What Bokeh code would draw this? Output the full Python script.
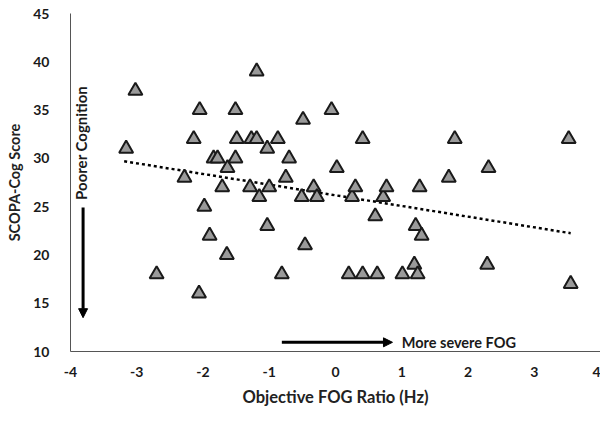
import math
from bokeh.plotting import figure
from bokeh.models import Arrow, NormalHead, Label, ColumnDataSource
from bokeh.embed import file_html
from bokeh.resources import INLINE

# Data
fog_ratio = [-3.16, -3.02, -2.70, -2.28, -2.14, -2.05, -2.06, -1.98, -1.90, -1.84,
             -1.78, -1.71, -1.63, -1.64, -1.51, -1.51, -1.49, -1.29, -1.27, -1.19,
             -1.19, -1.15, -1.03, -1.03, -1.00, -0.87, -0.81, -0.75, -0.70, -0.51,
             -0.49, -0.46, -0.33, -0.28, -0.06, 0.02, 0.20, 0.25, 0.30, 0.41,
             0.41, 0.60, 0.63, 0.72, 0.77, 1.01, 1.19, 1.21, 1.24, 1.27,
             1.30, 1.71, 1.80, 2.31, 2.29, 3.52, 3.55]
scopa_cog = [31, 37, 18, 28, 32, 35, 16, 25, 22, 30,
             30, 27, 29, 20, 35, 30, 32, 27, 32, 32,
             39, 26, 23, 31, 27, 32, 18, 28, 30, 26,
             34, 21, 27, 26, 35, 29, 18, 26, 27, 18,
             32, 24, 18, 26, 27, 18, 19, 23, 18, 27,
             22, 28, 32, 29, 19, 32, 17]
trend_x = [-3.19, 3.55]
trend_y = [29.7, 22.25]
x_ticks = [-4, -3, -2, -1, 0, 1, 2, 3, 4]
y_ticks = [10, 15, 20, 25, 30, 35, 40, 45]

FONT = "Lato"

p = figure(width=600, height=409, x_range=(-4, 4), y_range=(10, 45),
           output_backend="svg", toolbar_location=None,
           min_border_left=70, min_border_right=0, min_border_top=13, min_border_bottom=50)
p.outline_line_color = None
p.xgrid.grid_line_color = None
p.ygrid.grid_line_color = None
p.background_fill_color = "white"
p.border_fill_color = "white"

for ax in (p.xaxis, p.yaxis):
    ax.axis_line_color = "#555555"
    ax.axis_line_width = 1
    ax.major_tick_line_color = None
    ax.minor_tick_line_color = None
    ax.major_label_text_font = FONT
    ax.major_label_text_font_style = "bold"
    ax.major_label_text_font_size = "14px"
    ax.major_label_text_color = "#1a1a1a"
    ax.axis_label_text_font = FONT
    ax.axis_label_text_font_style = "bold"
    ax.axis_label_text_color = "#222222"

p.xaxis.axis_label_text_font_size = "16.5px"
p.yaxis.axis_label_text_font_size = "14.5px"
p.xaxis.ticker = x_ticks
p.yaxis.ticker = y_ticks
p.xaxis.major_label_overrides = {t: str(t) for t in x_ticks}
p.xaxis.axis_label = "Objective FOG Ratio (Hz)"
p.yaxis.axis_label = "SCOPA-Cog Score"
p.xaxis.major_label_standoff = 9
p.xaxis.axis_label_standoff = 7
p.yaxis.major_label_standoff = 15
p.yaxis.axis_label_standoff = 7

# Trendline
p.line(trend_x, trend_y, line_color="black", line_width=2.5, line_dash="3 3")

# Points
src = ColumnDataSource(dict(x=fog_ratio, y=scopa_cog))
p.scatter("x", "y", source=src, marker="triangle", size=14,
          fill_color="#9a9a9a", line_color="#1a1a1a", line_width=2)

# Annotation arrows
p.add_layout(Arrow(end=NormalHead(size=9, fill_color="black", line_color="black"),
                   x_start=-3.81, y_start=24.9, x_end=-3.81, y_end=13.5,
                   line_width=3, line_color="black"))
p.add_layout(Arrow(end=NormalHead(size=9, fill_color="black", line_color="black"),
                   x_start=-0.81, y_start=10.95, x_end=0.86, y_end=10.95,
                   line_width=3, line_color="black"))

p.add_layout(Label(x=-3.84, y=31.6, text="Poorer Cognition", angle=math.pi / 2,
                   text_align="center", text_baseline="middle",
                   text_font=FONT, text_font_style="bold", text_font_size="15px",
                   text_color="#1a1a1a"))
p.add_layout(Label(x=1.0, y=10.95, text="More severe FOG",
                   text_align="left", text_baseline="middle",
                   text_font=FONT, text_font_style="bold", text_font_size="14.5px",
                   text_color="#1a1a1a"))

open("out.html", "w").write(file_html(p, INLINE))
